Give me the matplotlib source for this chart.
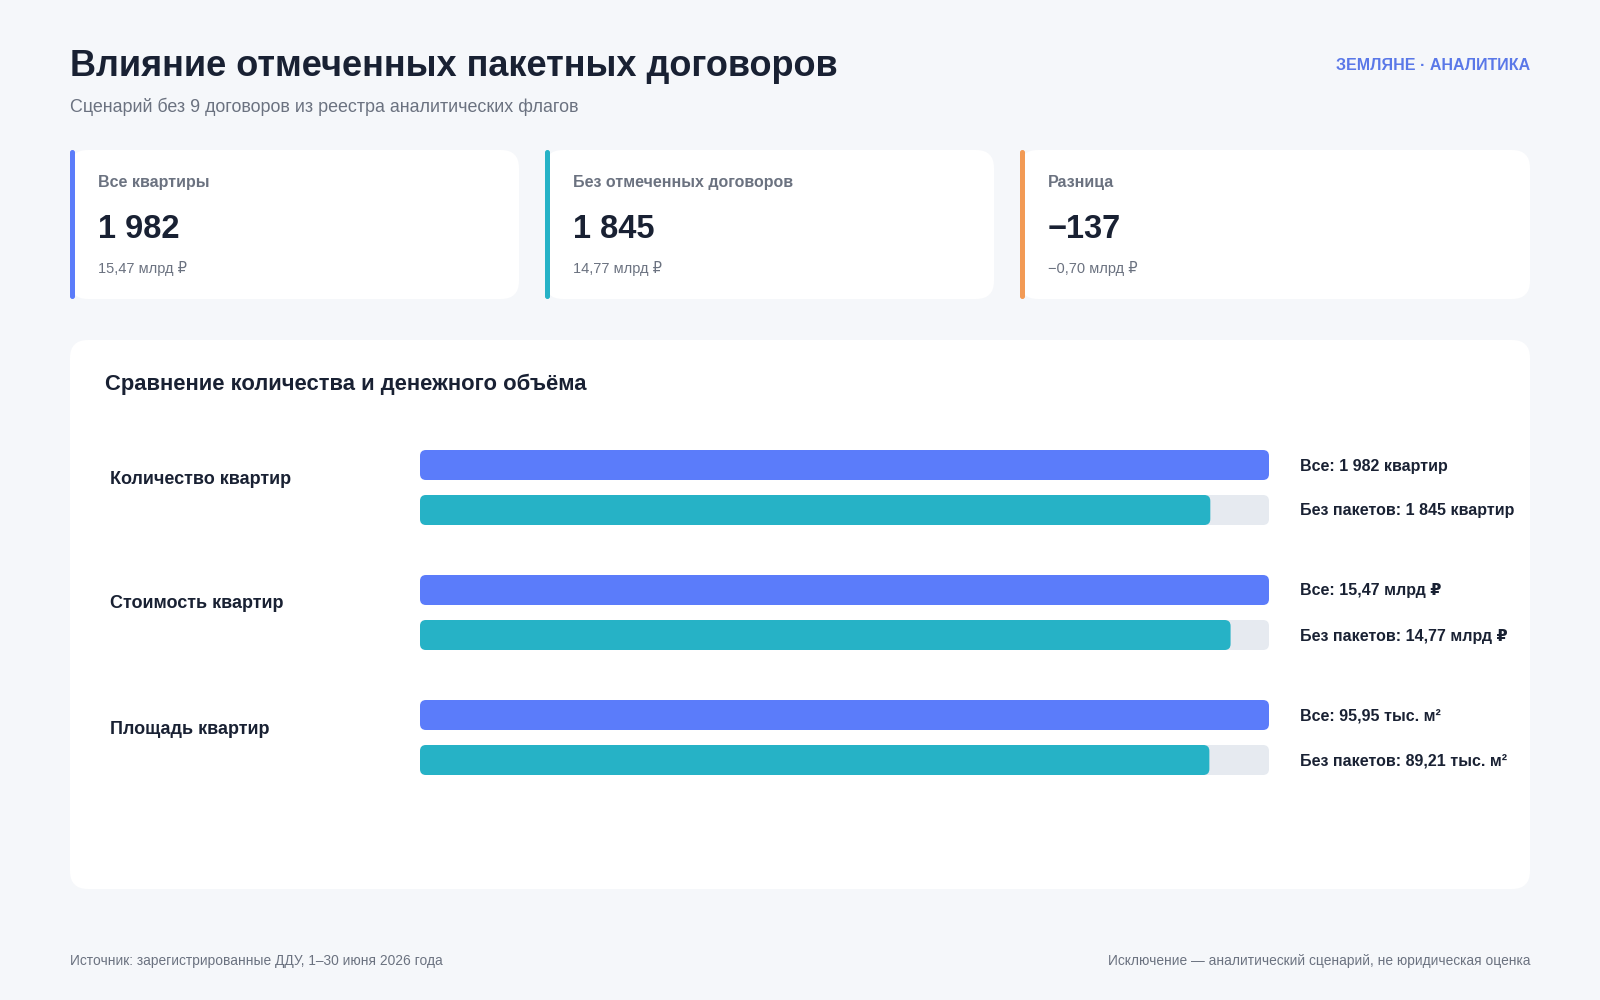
import matplotlib
matplotlib.use("Agg")
import matplotlib.pyplot as plt
from matplotlib.patches import FancyBboxPatch

plt.rcParams['font.family'] = ['Liberation Sans', 'DejaVu Sans']

# ---------------- data ----------------
title = "Влияние отмеченных пакетных договоров"
subtitle = "Сценарий без 9 договоров из реестра аналитических флагов"
brand = "ЗЕМЛЯНЕ · АНАЛИТИКА"

card_labels = ["Все квартиры", "Без отмеченных договоров", "Разница"]
card_values = ["1 982", "1 845", "−137"]
card_subs = ["15,47 млрд ₽", "14,77 млрд ₽", "−0,70 млрд ₽"]

panel_title = "Сравнение количества и денежного объёма"
metrics = ["Количество квартир", "Стоимость квартир", "Площадь квартир"]
all_values = [1982, 15.47, 95.95]
filtered_values = [1845, 14.77, 89.21]
all_labels = ["Все: 1 982 квартир", "Все: 15,47 млрд ₽", "Все: 95,95 тыс. м²"]
filtered_labels = ["Без пакетов: 1 845 квартир", "Без пакетов: 14,77 млрд ₽",
                   "Без пакетов: 89,21 тыс. м²"]

footer_left = "Источник: зарегистрированные ДДУ, 1–30 июня 2026 года"
footer_right = "Исключение — аналитический сценарий, не юридическая оценка"

# ---------------- style ----------------
BG = "#f5f7fa"
DARK = "#192133"
GRAY = "#6b7280"
BLUE = "#5b7cfa"
TEAL = "#26b2c6"
ORANGE = "#f29a55"
TRACK = "#e6eaf0"
accent_colors = [BLUE, TEAL, ORANGE]

W, H = 1600, 1000
fig = plt.figure(figsize=(16, 10), dpi=100, facecolor=BG)
ax = fig.add_axes([0, 0, 1, 1])
ax.set_xlim(0, W)
ax.set_ylim(H, 0)
ax.axis("off")

def rbox(x, y, w, h, r, color, axis=ax, aspect=1.0, z=1):
    p = FancyBboxPatch((x, y), w, h, boxstyle=f"round,pad=0,rounding_size={r}",
                       mutation_aspect=aspect, facecolor=color, edgecolor="none",
                       zorder=z)
    axis.add_patch(p)
    return p

# header
ax.text(70, 66, title, fontsize=26, fontweight="bold", color=DARK,
        va="center", ha="left")
ax.text(70, 107, subtitle, fontsize=12.9, color=GRAY, va="center", ha="left")
ax.text(1530, 65, brand, fontsize=11.5, fontweight="bold", color="#5a78e8",
        va="center", ha="right")

# cards
card_x = [70, 545, 1020]
card_w = [449, 449, 510]
cy, ch = 150, 149
for i in range(3):
    x = card_x[i]
    rbox(x, cy, card_w[i], ch, 18, "white")
    rbox(x, cy, 5, ch, 2.5, accent_colors[i], z=2)
    ax.text(x + 28, 183, card_labels[i], fontsize=11.5, fontweight="bold",
            color=GRAY, va="center")
    ax.text(x + 28, 229, card_values[i], fontsize=23.5, fontweight="bold",
            color=DARK, va="center")
    ax.text(x + 28, 268, card_subs[i], fontsize=10.5, color=GRAY, va="center")

# main panel
rbox(70, 340, 1460, 549, 18, "white")
ax.text(105, 384, panel_title, fontsize=15.8, fontweight="bold", color=DARK,
        va="center")

# bars axis: x in fraction of "all" value, y in pixel units
bx0, bw = 420, 849
bax = fig.add_axes([bx0 / W, 0, bw / W, 1])
bax.set_xlim(0, 1)
bax.set_ylim(H, 0)
bax.axis("off")
bax.patch.set_alpha(0)

bar_h = 30
asp = bw  # y-pixels per x-unit ratio for rounded corners
r = 6 / bw
for i, m in enumerate(metrics):
    top = 450 + i * 125
    frac_all = all_values[i] / all_values[i]
    frac_f = filtered_values[i] / all_values[i]
    rbox(0, top, frac_all, bar_h, r, BLUE, axis=bax, aspect=asp)
    rbox(0, top + 45, 1.0, bar_h, r, TRACK, axis=bax, aspect=asp)
    rbox(0, top + 45, frac_f, bar_h, r, TEAL, axis=bax, aspect=asp, z=2)
    ax.text(110, top + 29, m, fontsize=13, fontweight="bold", color=DARK,
            va="center")
    ax.text(1300, top + 16, all_labels[i], fontsize=11.5, fontweight="bold",
            color=DARK, va="center")
    ax.text(1300, top + 61, filtered_labels[i], fontsize=11.5, fontweight="bold",
            color=DARK, va="center")

# footer
ax.text(70, 961, footer_left, fontsize=9.95, color=GRAY, va="center")
ax.text(1530, 961, footer_right, fontsize=9.95, color=GRAY, va="center", ha="right")

fig.savefig("out.png", dpi=100, facecolor=BG)
